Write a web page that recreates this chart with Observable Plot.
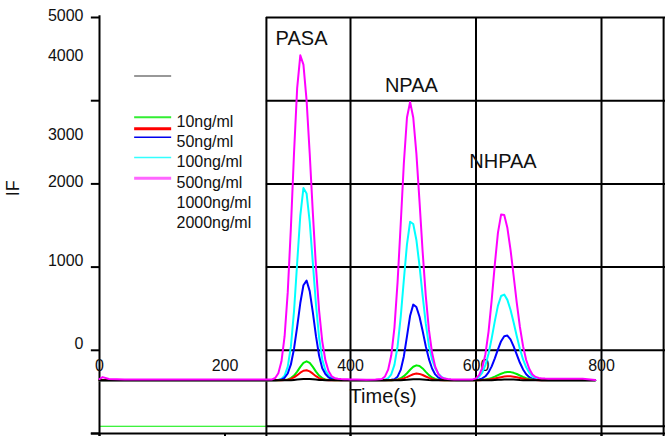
<!DOCTYPE html>
<html><head><meta charset="utf-8">
<script src="https://cdn.jsdelivr.net/npm/d3@7"></script>
<script src="https://cdn.jsdelivr.net/npm/@observablehq/plot@0.6"></script>
<style>
html,body{margin:0;padding:0;background:#fff;}
#chart{width:665px;height:436px;overflow:hidden;}
</style></head><body><div id="chart"></div>
<script>
// ---------- data (time in s, fluorescence intensity IF) ----------
const times = [0,5,15,40,80,120,160,200,240,260,270,
275,280,285,290,295,300,305,310,315,320,325,330,335,340,345,350,355,360,365,370,375,380,385,390,395,400,
410,425,440,450,455,460,465,
470,475,480,485,490,495,500,505,510,515,520,525,530,535,540,545,550,555,560,565,570,
580,590,595,600,605,610,
615,620,625,630,635,640,645,650,655,660,665,670,675,680,685,690,695,700,705,710,715,720,
735,750,770,790];

const ifMagenta = [-345,-322,-345,-350,-352,-350,-352,-350,-352,-351,-350,
-350,-333,-275,-132,169,699,1472,2371,3151,3545,3433,3007,2366,1652,996,473,108,-121,-248,-312,-335,-342,-345,-347,-348,-350,
-352,-354,-352,-345,-314,-233,-60,
270,816,1515,2246,2798,2985,2798,2366,1787,1182,651,245,-30,-196,-286,-325,-340,-345,-348,-350,-351,
-352,-352,-350,-338,-299,-212,
-47,225,602,1033,1415,1631,1625,1472,1211,893,569,280,50,-117,-225,-291,-320,-333,-338,-340,-341,-341,
-341,-341,-342,-358];

const ifCyan = [-360,-358,-360,-359,-360,-359,-360,-359,-360,-360,-360,
-360,-359,-357,-345,-305,-197,44,470,1049,1620,1950,1886,1545,1050,548,151,-110,-240,-300,-325,-340,-348,-353,-356,-358,-359,
-360,-360,-360,-358,-352,-336,-288,
-175,46,398,845,1274,1545,1518,1326,1014,655,320,53,-110,-215,-280,-320,-340,-350,-355,-358,-359,
-360,-360,-354,-343,-318,-268,
-179,-41,143,350,537,653,670,606,487,333,169,16,-110,-205,-270,-312,-336,-349,-354,-357,-359,-360,
-360,-360,-360,-360];

const ifBlue = [-360,-360,-360,-360,-360,-360,-360,-360,-360,-360,-360,
-360,-359,-358,-351,-330,-279,-170,19,282,568,782,838,711,456,170,-67,-215,-285,-325,-345,-354,-357,-359,-360,-360,-360,
-360,-360,-360,-360,-360,-358,-355,
-348,-317,-236,-74,167,415,549,521,403,231,49,-106,-219,-290,-329,-348,-354,-357,-359,-360,-360,
-360,-360,-359,-356,-351,-338,
-312,-265,-193,-97,12,109,170,177,132,48,-52,-150,-230,-287,-323,-343,-353,-357,-359,-360,-360,-360,
-360,-360,-360,-360];

const ifGreen = [-360,-360,-360,-360,-360,-360,-360,-360,-360,-360,-360,
-360,-360,-360,-358,-356,-350,-334,-303,-256,-199,-151,-132,-151,-199,-256,-303,-334,-350,-356,-358,-360,-360,-360,-360,-360,-360,
-360,-360,-360,-360,-360,-360,-359,
-356,-350,-336,-311,-276,-234,-198,-181,-188,-218,-259,-298,-327,-345,-354,-358,-360,-360,-360,-360,-360,
-360,-360,-360,-359,-357,-355,
-351,-343,-332,-317,-299,-282,-268,-261,-262,-271,-285,-303,-320,-334,-345,-352,-356,-358,-359,-360,-360,-360,
-360,-360,-360,-360];

const ifRed = [-360,-360,-360,-360,-360,-360,-360,-360,-360,-360,-360,
-360,-360,-360,-359,-357,-354,-344,-326,-299,-269,-246,-240,-254,-281,-311,-334,-349,-356,-359,-360,-360,-360,-360,-360,-360,-360,
-360,-360,-360,-360,-360,-360,-360,
-358,-355,-349,-338,-322,-304,-288,-280,-284,-297,-315,-332,-345,-353,-357,-359,-360,-360,-360,-360,-360,
-360,-360,-360,-360,-360,-358,
-355,-352,-346,-339,-331,-323,-316,-312,-313,-317,-324,-332,-340,-347,-353,-356,-358,-360,-360,-360,-360,-360,
-360,-360,-360,-360];

const ifBlack = [-360,-360,-360,-360,-360,-360,-360,-360,-360,-360,-360,
-360,-360,-360,-360,-360,-360,-360,-356,-352,-348,-345,-344,-345,-348,-352,-356,-358,-360,-360,-360,-360,-360,-360,-360,-360,-360,
-360,-360,-360,-360,-360,-360,-360,
-360,-360,-359,-357,-355,-352,-349,-348,-349,-351,-354,-357,-359,-360,-360,-360,-360,-360,-360,-360,-360,
-360,-360,-360,-360,-360,-360,
-360,-360,-359,-357,-355,-353,-351,-350,-350,-352,-354,-357,-359,-360,-360,-360,-360,-360,-360,-360,-360,-360,
-360,-360,-360,-360];

const seriesColors = ["#00ffff", "#0000ff", "#00ee00", "#ff0000", "#000000", "#ff00ff"];
const seriesValues = [ifCyan, ifBlue, ifGreen, ifRed, ifBlack, ifMagenta];

const peakNames = ["PASA", "NPAA", "NHPAA"];
const peakLabelTime = [322, 497, 643];
const peakLabelIF = [3750, 3185, 2272];

const legendLabels = ["10ng/ml", "50ng/ml", "100ng/ml", "500ng/ml", "1000ng/ml", "2000ng/ml"];
const legendSwatchColors = ["#333333", "#33ee33", "#ff0000", "#0000ee", "#33ffff", "#ff66ff"];

const yTickValues = [4000, 3000, 2000, 1000, 0, -1000];
const yTickLabels = ["5000", "4000", "3000", "2000", "1000", "0"];
const yTickLabelIF = [4024, 3534, 2584, 2025, 1070, 72];   // where the printed labels sit
const xTickValues = [0, 200, 400, 600, 800];
const xTickLabels = ["0", "200", "400", "600", "800"];
const gridTimes = [266, 400, 600, 800, 899];
const gridIF = [4000, 3000, 2000, 1000, 0, -913];

seriesValues.forEach((v, i) => { if (v.length !== times.length) console.error("length mismatch", i, v.length, times.length); });

// ---------- layout ----------
const legendSwatchIF = [3297, 2800, 2662, 2560, 2316, 2067];
const legendSwatchWidth = [1.2, 2, 3, 1.5, 1.5, 3];

const marks = [];
// grid
marks.push(Plot.ruleY(gridIF, {y: d => d, x1: 266, x2: 902, stroke: "#000", strokeWidth: 2}));
marks.push(Plot.ruleY([-913], {y: d => d, x1: 0, x2: 266, stroke: "#00ee00", strokeWidth: 1}));
marks.push(Plot.ruleX(gridTimes, {x: d => d, y1: 4000, y2: -1055, stroke: "#000", strokeWidth: 2}));
// axes
marks.push(Plot.ruleX([0], {x: d => d, y1: 4020, y2: -1055, stroke: "#000", strokeWidth: 2}));
marks.push(Plot.ruleY([-1000], {y: d => d, x1: -13, x2: 902, stroke: "#000", strokeWidth: 2}));
marks.push(Plot.ruleY(yTickValues, {y: d => d, x1: -13, x2: 0, stroke: "#000", strokeWidth: 2}));
marks.push(Plot.ruleX(xTickValues, {x: d => d, y1: -1000, y2: -1055, stroke: "#000", strokeWidth: 2}));
marks.push(Plot.text(yTickLabels, {x: () => 0, y: (d, i) => yTickLabelIF[i], text: d => d, dx: -16, textAnchor: "end", fontSize: 16, fill: "#111"}));
marks.push(Plot.text(xTickLabels, {x: (d, i) => xTickValues[i], y: () => -192, text: d => d, fontSize: 16, fill: "#111"}));
marks.push(Plot.text(["Time(s)"], {x: () => 452, y: () => -553, text: d => d, fontSize: 20, fill: "#111"}));
marks.push(Plot.text(["IF"], {x: () => -137, y: () => 1947, text: d => d, fontSize: 18, rotate: -90, fill: "#111"}));
// series
seriesValues.forEach((vals, k) => {
  marks.push(Plot.line(times, {x: d => d, y: (d, i) => vals[i], stroke: seriesColors[k], strokeWidth: 2}));
});
// peak labels
marks.push(Plot.text(peakNames, {x: (d, i) => peakLabelTime[i], y: (d, i) => peakLabelIF[i], text: d => d, fontSize: 20, fill: "#111"}));
// legend
legendSwatchColors.forEach((c, i) => {
  marks.push(Plot.ruleY([legendSwatchIF[i]], {y: d => d, x1: 56, x2: 115, stroke: c, strokeWidth: legendSwatchWidth[i]}));
});
marks.push(Plot.text(legendLabels, {x: () => 122.7, y: (d, i) => 2746 - i * 243, text: d => d, textAnchor: "start", fontSize: 16, fill: "#111"}));

const chart = Plot.plot({
  width: 665, height: 436,
  marginLeft: 99, marginRight: 0, marginTop: 17, marginBottom: 3,
  x: {domain: [0, 902], axis: null},
  y: {domain: [-1000, 4000], axis: null},
  style: {fontFamily: "'Liberation Sans', Arial, sans-serif", fontSize: "16px", background: "#fff", overflow: "visible"},
  marks
});
document.getElementById("chart").appendChild(chart);
</script>
</body></html>
